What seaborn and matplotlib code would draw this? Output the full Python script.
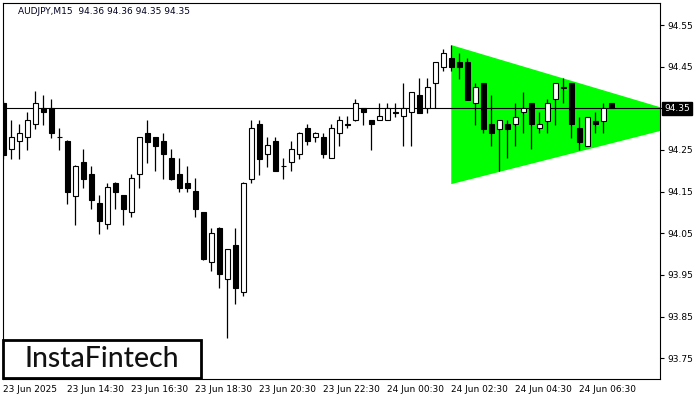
import numpy as np
import pandas as pd
import seaborn as sns
import matplotlib
matplotlib.use("Agg")
import matplotlib.pyplot as plt
from matplotlib.patches import Rectangle

# AUDJPY M15 candles, 23 Jun 12:30 .. 24 Jun 07:30
opens = [94.363, 94.252, 94.272, 94.281, 94.312, 94.351, 94.351, 94.282, 94.272, 94.140,
         94.221, 94.192, 94.123, 94.072, 94.171, 94.142, 94.101, 94.192, 94.291, 94.281,
         94.272, 94.231, 94.192, 94.171, 94.152, 94.101, 93.981, 94.063, 93.940, 94.022,
         93.909, 94.180, 94.312, 94.240, 94.272, 94.212, 94.221, 94.240, 94.303, 94.281,
         94.281, 94.231, 94.291, 94.312, 94.322, 94.351, 94.322, 94.322, 94.322, 94.341,
         94.331, 94.341, 94.382, 94.351, 94.411, 94.449, 94.471, 94.461, 94.461, 94.363,
         94.411, 94.312, 94.300, 94.312, 94.312, 94.341, 94.363, 94.303, 94.320, 94.372,
         94.401, 94.411, 94.303, 94.260, 94.320, 94.320, 94.363]
highs = [94.368, 94.322, 94.312, 94.341, 94.392, 94.382, 94.372, 94.303, 94.273, 94.213,
         94.252, 94.212, 94.142, 94.171, 94.172, 94.143, 94.192, 94.282, 94.322, 94.282,
         94.291, 94.252, 94.231, 94.212, 94.183, 94.102, 94.063, 94.064, 94.013, 94.063,
         94.172, 94.322, 94.322, 94.281, 94.281, 94.231, 94.272, 94.292, 94.312, 94.292,
         94.291, 94.312, 94.331, 94.331, 94.372, 94.352, 94.323, 94.363, 94.363, 94.363,
         94.411, 94.390, 94.423, 94.423, 94.462, 94.492, 94.502, 94.483, 94.471, 94.411,
         94.412, 94.382, 94.323, 94.322, 94.363, 94.389, 94.364, 94.341, 94.372, 94.412,
         94.423, 94.412, 94.329, 94.330, 94.341, 94.363, 94.364]
lows = [94.228, 94.228, 94.228, 94.250, 94.300, 94.310, 94.279, 94.250, 94.120, 94.070,
        94.159, 94.108, 94.048, 94.060, 94.108, 94.070, 94.089, 94.159, 94.219, 94.200,
        94.180, 94.179, 94.149, 94.149, 94.089, 93.986, 93.960, 93.919, 93.799, 93.880,
        93.900, 94.171, 94.190, 94.209, 94.199, 94.180, 94.200, 94.228, 94.262, 94.269,
        94.231, 94.230, 94.260, 94.303, 94.320, 94.310, 94.250, 94.321, 94.321, 94.329,
        94.260, 94.260, 94.338, 94.339, 94.351, 94.440, 94.440, 94.420, 94.369, 94.310,
        94.291, 94.260, 94.200, 94.231, 94.260, 94.291, 94.252, 94.291, 94.291, 94.310,
        94.363, 94.279, 94.250, 94.259, 94.291, 94.291, 94.350]
closes = [94.238, 94.281, 94.291, 94.322, 94.363, 94.341, 94.291, 94.280, 94.149, 94.212,
          94.180, 94.130, 94.080, 94.161, 94.149, 94.108, 94.183, 94.281, 94.269, 94.260,
          94.240, 94.180, 94.159, 94.159, 94.108, 93.988, 94.051, 93.952, 94.012, 93.919,
          94.171, 94.303, 94.228, 94.262, 94.200, 94.211, 94.252, 94.291, 94.272, 94.291,
          94.240, 94.303, 94.322, 94.311, 94.363, 94.341, 94.312, 94.331, 94.351, 94.340,
          94.351, 94.389, 94.339, 94.401, 94.461, 94.483, 94.449, 94.449, 94.370, 94.401,
          94.300, 94.291, 94.322, 94.300, 94.329, 94.351, 94.312, 94.312, 94.363, 94.411,
          94.400, 94.312, 94.269, 94.329, 94.312, 94.351, 94.351]

x_tick_labels = ["23 Jun 2025", "23 Jun 14:30", "23 Jun 16:30", "23 Jun 18:30",
                 "23 Jun 20:30", "23 Jun 22:30", "24 Jun 00:30", "24 Jun 02:30",
                 "24 Jun 04:30", "24 Jun 06:30"]
y_ticks = [93.75, 93.85, 93.95, 94.05, 94.15, 94.25, 94.35, 94.45, 94.55]
last_price = 94.35

# symmetrical triangle (bar index, price)
tri_bars = [56, 87.5, 56]
tri_prices = [94.502, 94.322, 94.168]

df = pd.DataFrame({"open": opens, "high": highs, "low": lows, "close": closes})
df["bar"] = np.arange(len(df))
df["up"] = df["close"] >= df["open"]

sns.set_theme(style="white")
plt.rcParams["font.family"] = ["DejaVu Sans"]

fig = plt.figure(figsize=(7, 4), dpi=100)
ax = fig.add_axes([3 / 700, 21 / 400, 657 / 700, 376 / 400])

# triangle pattern
ax.fill(tri_bars, tri_prices, color="#00ff00", lw=0, zorder=1)

# current price line
ax.axhline(last_price, color="black", lw=0.8, zorder=2)

# wicks
ax.vlines(df["bar"], df["low"], df["high"], color="black", lw=0.9, zorder=3)

# bodies
body_lo = df[["open", "close"]].min(axis=1)
body_h = (df["close"] - df["open"]).abs().clip(lower=0.0006)
ax.bar(df["bar"], body_h, bottom=body_lo, width=0.6,
       color=np.where(df["up"], "white", "black"),
       edgecolor="black", linewidth=0.8, zorder=4)

ax.set_xlim(-0.05, 82.1)
ax.set_ylim(93.700, 94.603)

ax.yaxis.tick_right()
ax.set_yticks(y_ticks)
# the last-price box covers the 94.35 label
ax.set_yticklabels(["" if abs(v - last_price) < 1e-9 else f"{v:.2f}" for v in y_ticks])
ax.set_xticks(np.arange(0, 8 * len(x_tick_labels), 8))
ax.set_xticklabels(x_tick_labels, ha="left")
ax.tick_params(axis="both", which="both", direction="out", length=3, width=0.8,
               colors="black", labelsize=6.5, pad=2)
ax.tick_params(axis="x", pad=1.5)
for s in ax.spines.values():
    s.set_color("black")
    s.set_linewidth(0.8)
ax.set_xlabel("")
ax.set_ylabel("")

# last price box
ax.annotate(f"{last_price:.2f}", xy=(1.0, last_price),
            xycoords=("axes fraction", "data"), xytext=(3, 0),
            textcoords="offset points", va="center", ha="left",
            fontsize=6.5, color="white",
            bbox=dict(boxstyle="square,pad=0.25", fc="black", ec="black"))

fig.text(18 / 700, 1 - 11 / 400, "AUDJPY,M15  94.36 94.36 94.35 94.35",
         fontsize=6.5, color="#000020", va="center", ha="left")

# logo
fig.add_artist(Rectangle((3 / 700, 22 / 400), 198 / 700, 38 / 400,
                         transform=fig.transFigure, facecolor="white",
                         edgecolor="black", lw=2, zorder=5))
fig.text(102 / 700, 1 - 359 / 400, "InstaFintech", fontsize=20.5,
         family=["Lato", "DejaVu Sans"], fontweight="medium", color="#111111",
         ha="center", va="center", zorder=6)

fig.savefig("out.png", dpi=100)
